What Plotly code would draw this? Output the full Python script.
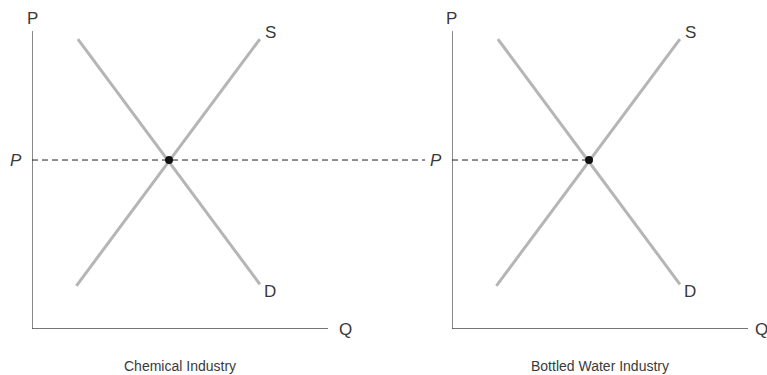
import plotly.graph_objects as go

# ---- data (conceptual units: quantity Q and price P) ----
panel_titles = ["Chemical Industry", "Bottled Water Industry"]
axis_q_max = 10.0
axis_p_max = 10.0
demand_q = [1.55, 7.7]
demand_p = [9.73, 1.5]
supply_q = [1.5, 7.7]
supply_p = [1.45, 9.73]
eq_q = 4.63
eq_p = 5.67
# dashed price line reaching from left panel across toward right panel
left_dash_end_q = 13.28
right_dash_end_q = eq_q

W, H = 767, 375
px_per_q = 29.6
left_x0, right_x0 = 32, 452
y_bottom, y_top = 329, 31

GRAY = "#b5b5b5"
AX = "#4a4a4a"
TXT = "#3a3a3a"
FONT = "Liberation Sans, Arial, sans-serif"

fig = go.Figure()

axes = [("x", "y"), ("x2", "y2")]
for i, (xa, ya) in enumerate(axes):
    # axes lines
    fig.add_trace(go.Scatter(x=[0, 0, axis_q_max], y=[axis_p_max, 0, 0], mode="lines",
                             line=dict(color=AX, width=1.3), xaxis=xa, yaxis=ya,
                             hoverinfo="skip", showlegend=False, cliponaxis=False))
    # demand
    fig.add_trace(go.Scatter(x=demand_q, y=demand_p, mode="lines",
                             line=dict(color=GRAY, width=3), xaxis=xa, yaxis=ya,
                             showlegend=False, cliponaxis=False))
    # supply
    fig.add_trace(go.Scatter(x=supply_q, y=supply_p, mode="lines",
                             line=dict(color=GRAY, width=3), xaxis=xa, yaxis=ya,
                             showlegend=False, cliponaxis=False))
    # dashed price line
    dash_end = left_dash_end_q if i == 0 else right_dash_end_q
    fig.add_trace(go.Scatter(x=[0, dash_end], y=[eq_p, eq_p], mode="lines",
                             line=dict(color="#222", width=1, dash="6px,4px"),
                             xaxis=xa, yaxis=ya, showlegend=False, cliponaxis=False))
    # equilibrium point
    fig.add_trace(go.Scatter(x=[eq_q], y=[eq_p], mode="markers",
                             marker=dict(color="#111", size=8), xaxis=xa, yaxis=ya,
                             showlegend=False, cliponaxis=False))

    anns = [
        dict(x=0, y=axis_p_max, text="P", xanchor="center", yanchor="bottom", yshift=1),
        dict(x=axis_q_max, y=0, text="Q", xanchor="left", yanchor="middle", xshift=9 if i == 0 else 5),
        dict(x=supply_q[1], y=supply_p[1], text="S", xanchor="left", yanchor="middle", xshift=3, yshift=7),
        dict(x=demand_q[1], y=demand_p[1], text="D", xanchor="left", yanchor="middle", xshift=2, yshift=-7),
        dict(x=0, y=eq_p, text="<i>P</i>", xanchor="right", yanchor="middle", xshift=-8),
        dict(x=axis_q_max / 2, y=0, text=panel_titles[i], xanchor="center", yanchor="middle",
             yshift=-37, font=dict(size=14, color=TXT, family=FONT)),
    ]
    for a in anns:
        a.setdefault("font", dict(size=17, color=TXT, family=FONT))
        fig.add_annotation(xref=xa, yref=ya, showarrow=False, **a)

dom_y = [(H - y_bottom) / H, (H - y_top) / H]
common = dict(showgrid=False, zeroline=False, showticklabels=False, ticks="", showline=False, fixedrange=True)
fig.update_layout(
    width=W, height=H,
    margin=dict(l=0, r=0, t=0, b=0),
    paper_bgcolor="white", plot_bgcolor="rgba(0,0,0,0)",
    xaxis=dict(domain=[left_x0 / W, right_x0 / W], range=[0, (right_x0 - left_x0) / px_per_q], anchor="y", **common),
    xaxis2=dict(domain=[right_x0 / W, 1], range=[0, (W - right_x0) / px_per_q], anchor="y2", **common),
    yaxis=dict(domain=dom_y, range=[0, axis_p_max], anchor="x", **common),
    yaxis2=dict(domain=dom_y, range=[0, axis_p_max], anchor="x2", **common),
    showlegend=False,
)

fig.write_html("out.html", config={"displayModeBar": False},
               post_script="document.body.style.margin='0px';document.body.style.padding='0px';")
